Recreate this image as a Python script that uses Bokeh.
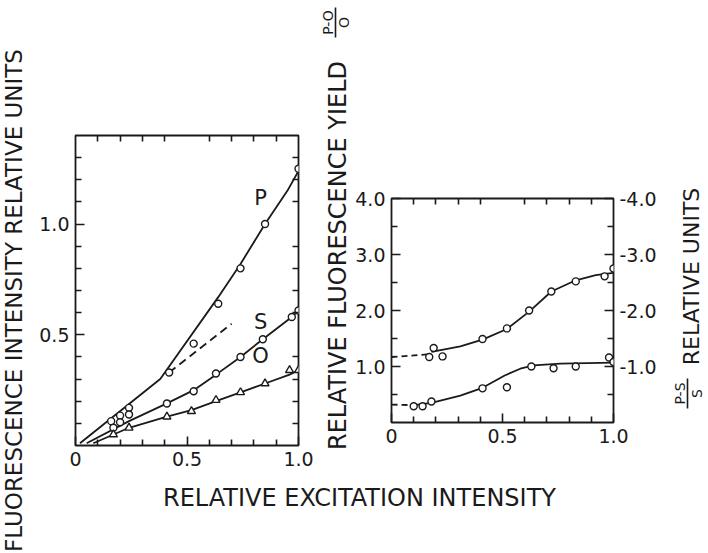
import math
from bokeh.plotting import figure
from bokeh.layouts import row, column
from bokeh.models import Range1d, FixedTicker, LinearAxis, Label, CustomJSTickFormatter
from bokeh.embed import file_html
from bokeh.resources import INLINE

# ---------------- data: left panel (fluorescence intensity, relative units)
P_x = [0.16, 0.20, 0.24, 0.42, 0.64, 0.74, 0.85, 1.00]
P_y = [0.11, 0.135, 0.17, 0.33, 0.64, 0.80, 1.00, 1.25]
P_extra_x = [0.53]
P_extra_y = [0.46]
P_fit_x = [0.02, 0.38, 0.64, 0.74, 0.85, 0.95, 1.00]
P_fit_y = [0.01, 0.30, 0.67, 0.82, 1.00, 1.15, 1.24]
P_ext_x = [0.42, 0.70]
P_ext_y = [0.33, 0.55]

S_x = [0.17, 0.20, 0.24, 0.41, 0.53, 0.63, 0.74, 0.84, 0.97, 1.00]
S_y = [0.08, 0.105, 0.14, 0.19, 0.245, 0.325, 0.40, 0.48, 0.58, 0.61]
S_fit_x = [0.05, 0.24, 0.41, 0.53, 0.63, 0.74, 0.84, 0.97, 1.00]
S_fit_y = [0.01, 0.11, 0.19, 0.25, 0.32, 0.40, 0.48, 0.58, 0.61]

O_x = [0.17, 0.24, 0.41, 0.52, 0.63, 0.74, 0.85, 0.96, 1.00]
O_y = [0.05, 0.08, 0.13, 0.155, 0.205, 0.24, 0.28, 0.34, 0.34]
O_fit_x = [0.08, 0.24, 0.41, 0.52, 0.63, 0.74, 0.85, 0.96, 1.00]
O_fit_y = [0.01, 0.08, 0.13, 0.16, 0.20, 0.24, 0.28, 0.32, 0.34]

# ---------------- data: right panel (relative fluorescence yield)
U_x = [0.17, 0.19, 0.23, 0.41, 0.52, 0.62, 0.72, 0.83, 0.96, 1.00]
U_y = [1.17, 1.33, 1.18, 1.49, 1.68, 2.00, 2.34, 2.52, 2.61, 2.75]
U_fit_x = [0.18, 0.31, 0.41, 0.52, 0.62, 0.72, 0.83, 0.92, 1.00]
U_fit_y = [1.26, 1.36, 1.48, 1.67, 1.98, 2.34, 2.54, 2.63, 2.67]
U_ext_x = [0.0, 0.18]
U_ext_y = [1.17, 1.22]

L_x = [0.10, 0.14, 0.18, 0.41, 0.52, 0.63, 0.73, 0.83, 0.98, 1.00]
L_y = [0.29, 0.29, 0.375, 0.61, 0.63, 1.00, 0.97, 1.00, 1.16, 1.08]
L_fit_x = [0.10, 0.18, 0.31, 0.41, 0.51, 0.58, 0.64, 0.76, 0.88, 1.00]
L_fit_y = [0.31, 0.35, 0.48, 0.62, 0.84, 0.96, 1.02, 1.05, 1.06, 1.07]
L_ext_x = [0.0, 0.10]
L_ext_y = [0.32, 0.31]

# ---------------- ticks
x_major = [0.0, 0.5, 1.0]
x_minor = [0.1, 0.2, 0.3, 0.4, 0.6, 0.7, 0.8, 0.9]
left_y_major = [0.5, 1.0]
left_y_minor = [0.1, 0.2, 0.3, 0.4, 0.6, 0.7, 0.8, 0.9, 1.1, 1.2, 1.3]
right_y_major = [1.0, 2.0, 3.0, 4.0]
right_y_minor = [0.5, 1.5, 2.5, 3.5]
neg_y_major = [-1.0, -2.0, -3.0, -4.0]
neg_y_minor = [-0.5, -1.5, -2.5, -3.5]

INK = "#1a1a1a"
FONT = "DejaVu Sans"
TICK_FS = "19px"
TITLE_FS = "23px"
FMT = "return tick == 0 ? '0' : tick.toFixed(1);"


def no_align(p):
    try:
        p.frame_align = False
    except Exception:
        pass


def panel(w, h, xr, yr, **kw):
    p = figure(width=w, height=h, x_range=xr, y_range=yr, toolbar_location=None,
               output_backend="svg", x_axis_location=None, y_axis_location=None, **kw)
    p.grid.visible = False
    p.outline_line_color = INK
    p.outline_line_width = 1.8
    p.background_fill_color = "white"
    p.border_fill_color = "white"
    no_align(p)
    return p


def strip(w, h):
    p = figure(width=w, height=h, x_range=Range1d(0, w), y_range=Range1d(h, 0),
               toolbar_location=None, output_backend="svg",
               x_axis_location=None, y_axis_location=None,
               min_border=0, min_border_left=0, min_border_right=0,
               min_border_top=0, min_border_bottom=0)
    p.grid.visible = False
    p.outline_line_color = None
    p.background_fill_color = "white"
    p.border_fill_color = "white"
    no_align(p)
    return p


def add_axis(p, side, ticks, minor, y_range_name=None):
    kw = {}
    if y_range_name:
        kw["y_range_name"] = y_range_name
    ax = LinearAxis(ticker=FixedTicker(ticks=ticks, minor_ticks=minor), **kw)
    ax.formatter = CustomJSTickFormatter(code=FMT)
    ax.major_tick_in = 9
    ax.major_tick_out = 0
    ax.minor_tick_in = 6
    ax.minor_tick_out = 0
    ax.axis_line_color = None
    ax.major_tick_line_color = INK
    ax.major_tick_line_width = 1.6
    ax.minor_tick_line_color = INK
    ax.minor_tick_line_width = 1.6
    ax.major_label_text_font = FONT
    ax.major_label_text_font_size = TICK_FS
    ax.major_label_text_color = INK
    ax.major_label_standoff = 6
    p.add_layout(ax, side)
    return ax


def rot_label(p, x, y, text, size=TITLE_FS):
    p.add_layout(Label(x=x, y=y, text=text, angle=math.pi / 2, text_align="center",
                       text_baseline="middle", text_font=FONT, text_font_size=size,
                       text_color=INK))


# ---------------- left panel
left = panel(286, 485, Range1d(0, 1.0), Range1d(0, 1.4),
             min_border_left=43, min_border_right=20, min_border_top=135, min_border_bottom=40)
add_axis(left, "below", x_major, x_minor)
add_axis(left, "left", left_y_major, left_y_minor)
add_axis(left, "above", [], x_minor)
add_axis(left, "right", [], left_y_minor)

left.line(P_fit_x, P_fit_y, line_color=INK, line_width=1.8)
left.line(P_ext_x, P_ext_y, line_color=INK, line_width=1.8, line_dash="8 5")
left.line(S_fit_x, S_fit_y, line_color=INK, line_width=1.8)
left.line(O_fit_x, O_fit_y, line_color=INK, line_width=1.8)
left.scatter(P_x, P_y, marker="circle", size=7, fill_color="white", line_color=INK, line_width=1.4)
left.scatter(P_extra_x, P_extra_y, marker="circle", size=7, fill_color="white", line_color=INK, line_width=1.4)
left.scatter(S_x, S_y, marker="circle", size=7, fill_color="white", line_color=INK, line_width=1.4)
left.scatter(O_x, O_y, marker="triangle", size=8, fill_color="white", line_color=INK, line_width=1.4)
for name, lx, ly in [("P", 0.83, 1.12), ("S", 0.83, 0.56), ("O", 0.83, 0.405)]:
    left.add_layout(Label(x=lx, y=ly, text=name, text_align="center", text_baseline="middle",
                          text_font=FONT, text_font_size="21px", text_color=INK))

# ---------------- right panel
right = panel(316, 485, Range1d(0, 1.0), Range1d(0, 4.0),
              min_border_left=39, min_border_right=55, min_border_top=198, min_border_bottom=63)
right.extra_y_ranges = {"neg": Range1d(0, -4.0)}
add_axis(right, "below", x_major, x_minor)
add_axis(right, "left", right_y_major, right_y_minor)
add_axis(right, "above", [], x_minor)
add_axis(right, "right", neg_y_major, neg_y_minor, y_range_name="neg")

right.line(U_fit_x, U_fit_y, line_color=INK, line_width=1.8)
right.line(U_ext_x, U_ext_y, line_color=INK, line_width=1.8, line_dash="6 4")
right.line(L_fit_x, L_fit_y, line_color=INK, line_width=1.8)
right.line(L_ext_x, L_ext_y, line_color=INK, line_width=1.8, line_dash="6 4")
right.scatter(U_x, U_y, marker="circle", size=7, fill_color="white", line_color=INK, line_width=1.4)
right.scatter(L_x, L_y, marker="circle", size=7, fill_color="white", line_color=INK, line_width=1.4)

# ---------------- title strips
a_strip = strip(32, 553)
rot_label(a_strip, 13, 300, "FLUORESCENCE INTENSITY RELATIVE UNITS")

m_strip = strip(34, 485)
rot_label(m_strip, 19, 255, "RELATIVE FLUORESCENCE YIELD", "24px")
rot_label(m_strip, 9, 22, "P-O", "14px")
rot_label(m_strip, 25, 22, "O", "14px")
m_strip.segment(x0=[17], y0=[7], x1=[17], y1=[37], line_color=INK, line_width=1.6)

r_strip = strip(40, 485)
rot_label(r_strip, 23, 276, "RELATIVE UNITS", "22px")
rot_label(r_strip, 11, 393, "P-S", "14px")
rot_label(r_strip, 28, 393, "S", "14px")
r_strip.segment(x0=[19], y0=[378], x1=[19], y1=[408], line_color=INK, line_width=1.6)

x_strip = strip(676, 68)
x_strip.add_layout(Label(x=327, y=12, text="RELATIVE EXCITATION INTENSITY", text_align="center",
                         text_baseline="middle", text_font=FONT, text_font_size="24px",
                         text_color=INK))

layout = row(a_strip, column(row(left, m_strip, right, r_strip), x_strip))

open("out.html", "w").write(file_html(layout, INLINE))
